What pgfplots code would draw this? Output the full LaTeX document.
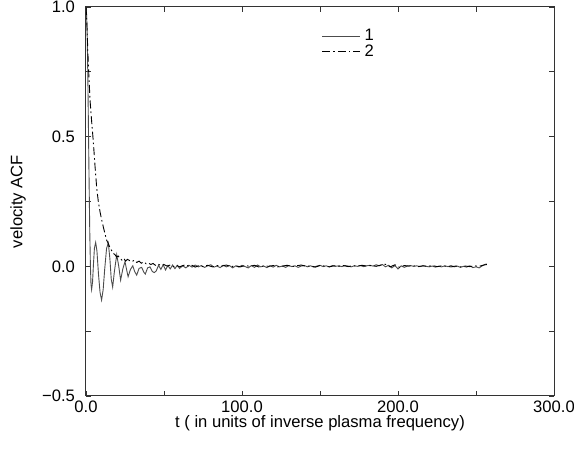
\documentclass[border=0pt]{standalone}
\usepackage{fontspec}
\setmainfont{Liberation Sans}
\usepackage{pgfplots}
\pgfplotsset{compat=1.18}

\begin{document}
\begin{tikzpicture}
\path[use as bounding box] (-43pt,-26.5pt) rectangle (244pt,198pt);
\begin{axis}[
    at={(0,0)}, anchor=south west,
    scale only axis, width=234pt, height=194.5pt,
    xmin=0, xmax=300, ymin=-0.5, ymax=1.0,
    xtick={0,100,200,300}, xticklabels={0.0,100.0,200.0,300.0},
    minor xtick={50,150,250},
    ytick={-0.5,0,0.5,1.0}, yticklabels={−0.5,0.0,0.5,1.0},
    minor ytick={-0.25,0.25,0.75},
    tick align=inside, major tick length=2.5pt, minor tick length=2.5pt,
    every tick/.style={black!80, line width=0.4pt},
    axis line style={black!80, line width=0.5pt},
    font=\fontsize{8.3}{9.5}\selectfont,
    yticklabel style={xshift=-2pt},
    xticklabel style={yshift=1pt},
    xlabel={t ( in units of inverse plasma frequency)},
    ylabel={velocity ACF},
    xlabel style={at={(rel axis cs:0.5,0)}, anchor=center, yshift=-13.5pt},
    ylabel style={at={(rel axis cs:0,0.5)}, anchor=center, yshift=34pt},
    legend style={at={(rel axis cs:0.49,0.965)}, anchor=north west,
        draw=none, fill=none, row sep=-3.5pt,
        font=\fontsize{8.3}{9.5}\selectfont},
    legend cell align=left,
    legend image code/.code={\draw[#1] (0pt,0pt) -- (19pt,0pt);},
]
\addplot[black!70, line width=0.45pt] coordinates {
(0,1.0)(0.4,0.97)(0.8,0.88)(1.2,0.72)(1.6,0.52)(2.0,0.32)(2.4,0.14)(2.8,0.01)
(3.2,-0.07)(3.6,-0.09)(4.2,-0.06)(4.8,0.01)(5.4,0.07)(6.2,0.092)(7.0,0.06)
(8.0,-0.03)(9.0,-0.10)(10.0,-0.13)(11.0,-0.09)(12.0,-0.01)(13.2,0.07)(14.3,0.09)
(15.3,0.03)(16.2,-0.05)(17.1,-0.08)(18.2,-0.02)(19.7,0.045)(21.0,0.0)(22.2,-0.053)
(23.6,-0.01)(25.0,0.018)(26.0,-0.012)(27.0,-0.04)(28.5,-0.012)(30.0,0.002)
(31.2,-0.02)(32.5,-0.034)(34.0,-0.008)(35.7,-0.004)(37.0,-0.022)(38.0,-0.03)
(39.5,-0.006)(41.0,-0.002)(42.5,-0.02)(43.8,-0.024)
(45,-0.018)(46.5,0.004)(48,-0.012)(49.5,0.006)(51,-0.014)(52.5,0.003)(54,-0.010)
(55.5,0.005)(57,-0.009)(58.5,0.004)(60,-0.008)(62,0.002)(64,-0.006)(66,0.004)
(68,-0.003)(70,0.005)(72,-0.002)(74,0.003)(76,-0.004)(78,0.002)(80,0.006)
(82,-0.003)(84,0.001)(86,-0.005)(88,0.004)(90,-0.002)(92,0.003)(94,-0.006)
(96,0.002)(98,-0.003)(100,0.004)(102,-0.001)(104,-0.006)(106,0.003)(108,-0.004)
(110,0.005)(112,-0.002)(114,0.001)(116,-0.005)(118,0.002)(120,-0.003)(122,0.004)
(124,-0.002)(126,0.001)(128,-0.004)(130,0.003)(132,-0.001)(134,0.002)(136,-0.004)
(138,0.001)(140,0.003)(142,-0.002)(144,0.002)(146,-0.003)(148,0.001)(150,0.004)
(152,-0.001)(154,0.002)(156,-0.002)(158,0.003)(160,0.000)(162,0.002)(164,-0.001)
(166,0.003)(168,0.001)(170,-0.002)(172,0.002)(174,0.000)(176,0.003)(178,-0.001)
(180,0.002)(182,0.004)(184,0.001)(186,0.006)(188,0.002)(190,0.007)(192,-0.002)
(194,0.004)(196,-0.006)(198,0.003)(200,-0.010)(202,0.002)(204,-0.004)(206,0.001)
(208,0.003)(210,0.000)(212,0.002)(214,-0.001)(216,0.002)(218,0.000)(220,-0.002)
(222,0.001)(224,-0.003)(226,0.000)(228,-0.002)(230,0.002)(232,-0.001)(234,0.003)
(236,-0.002)(238,0.001)(240,-0.004)(242,0.000)(244,-0.003)(246,0.002)(248,-0.005)
(250,-0.002)(252,-0.006)(254,0.002)(256,0.008)(257,0.009)
};
\addlegendentry{1}
\addplot[black, line width=0.45pt, dash pattern=on 4pt off 1.5pt on 0.8pt off 1.5pt] coordinates {
(0,1.0)(0.5,0.95)(1.1,0.84)(1.8,0.74)(2.6,0.64)(3.6,0.56)(4.7,0.48)(5.8,0.385)
(6.9,0.30)(7.9,0.25)(9.0,0.21)(10.0,0.18)(11.1,0.152)(12.2,0.125)(13.3,0.10)
(14.5,0.085)(15.5,0.07)(16.5,0.06)(17.5,0.05)(18.6,0.045)(19.6,0.036)(20.6,0.04)
(21.8,0.03)(23,0.024)(24.2,0.031)(25.4,0.02)(26.6,0.027)
(28,0.022)(29.5,0.018)(31,0.024)(32.5,0.015)(34,0.020)(35.5,0.012)(37,0.017)
(38.5,0.010)(40,0.013)(41.5,0.007)(43,0.011)(44.5,0.004)(46,0.009)(48,0.003)
(50,0.007)(52,0.001)(54,0.005)(56,-0.001)(58,0.004)(60,-0.002)(62,0.003)
(64,0.006)(66,0.000)(68,0.004)(70,-0.003)(72,0.002)(75,-0.001)(78,0.004)
(81,-0.002)(84,0.003)(87,0.001)(90,0.005)(93,-0.001)(96,0.002)(99,-0.002)
(102,0.003)(105,0.000)(108,0.004)(111,-0.003)(114,0.002)(117,0.000)(120,0.003)
(123,-0.002)(126,0.001)(129,0.004)(132,-0.001)(135,0.002)(138,0.005)(141,0.000)
(144,0.002)(147,-0.003)(150,0.003)(153,0.001)(156,-0.002)(159,0.002)(162,0.000)
(165,0.003)(168,-0.001)(171,0.002)(174,0.001)(177,0.004)(180,0.001)(183,0.003)
(186,0.000)(189,0.005)(192,0.008)(195,-0.002)(198,0.006)(201,-0.004)(204,0.003)
(207,0.001)(210,0.002)(213,-0.001)(216,0.002)(219,0.000)(222,0.003)(225,-0.001)
(228,0.002)(231,0.000)(234,-0.002)(237,0.001)(240,-0.002)(243,0.001)(246,-0.001)
(249,0.002)(252,0.000)(255,0.005)(257,0.007)
};
\addlegendentry{2}
\end{axis}
\end{tikzpicture}
\end{document}
